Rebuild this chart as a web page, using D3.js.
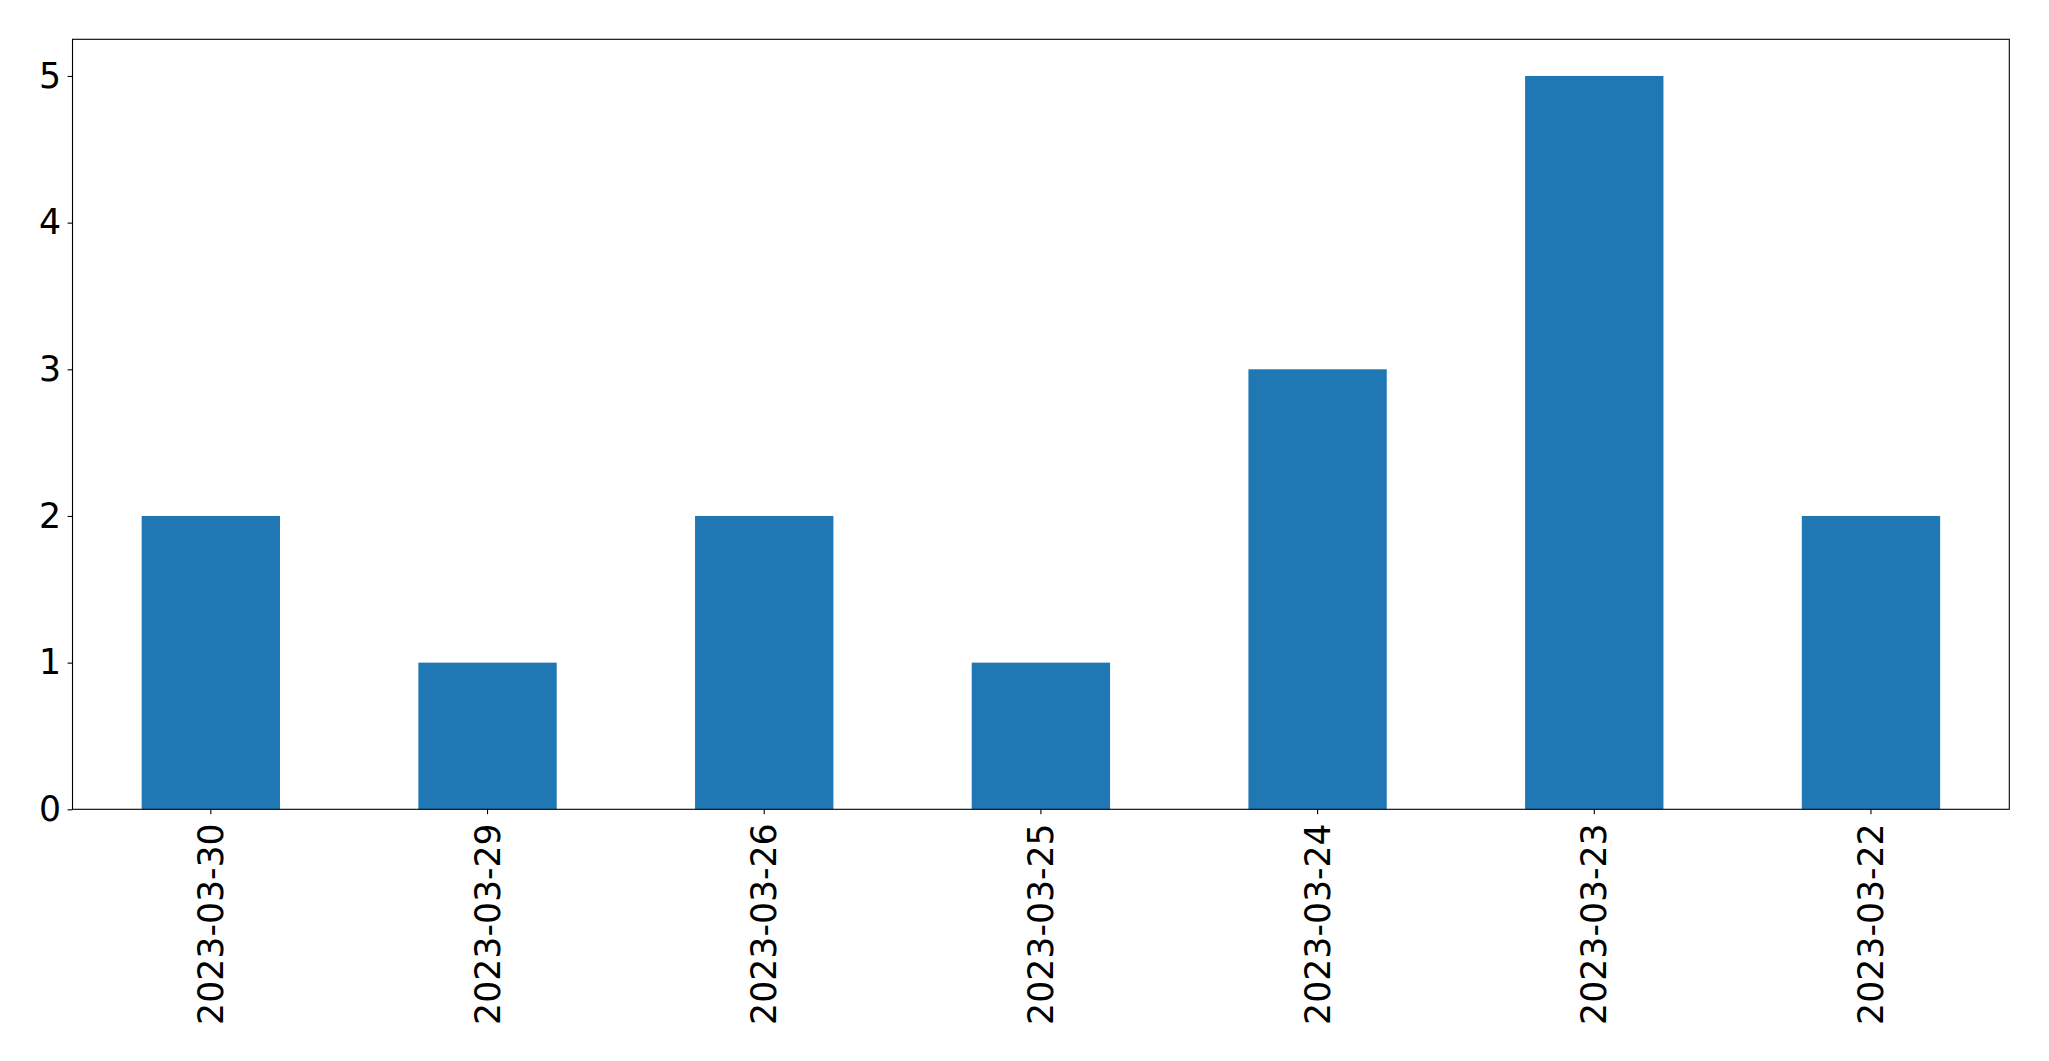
<!DOCTYPE html>
<html><head><meta charset="utf-8">
<script src="https://cdn.jsdelivr.net/npm/d3@7"></script>
<style>body{margin:0;background:#fff}</style>
</head><body>
<svg id="c" width="2049" height="1061"></svg>
<script>
const categories = ["2023-03-30","2023-03-29","2023-03-26","2023-03-25","2023-03-24","2023-03-23","2023-03-22"];
const values = [2,1,2,1,3,5,2];
const yTicks = [0,1,2,3,4,5];

const W=2049,H=1061;
const m={left:72.5,right:2049-2009.3,top:39.3,bottom:1061-809.3};
const svg=d3.select("#c");
const g=svg.append("g");
const x=d3.scaleBand().domain(categories).range([m.left,W-m.right]).paddingInner(0.5).paddingOuter(0.25);
const y=d3.scaleLinear().domain([0,5.25]).range([H-m.bottom,m.top]);
const font="DejaVu Sans, sans-serif", fs=34.7;

g.selectAll("rect.bar").data(values).enter().append("rect")
 .attr("x",(d,i)=>x(categories[i])).attr("width",x.bandwidth())
 .attr("y",d=>y(d)).attr("height",d=>y(0)-y(d)).attr("fill","#1f77b4");

const xa=d3.axisBottom(x).tickSize(4.9).tickPadding(4.9);
const xg=g.append("g").attr("transform",`translate(0,${H-m.bottom})`).call(xa);
xg.select(".domain").remove();
xg.selectAll("line").attr("stroke","#000").attr("stroke-width",1.1);
xg.selectAll("text").attr("font-family",font).attr("font-size",fs).attr("fill","#000")
 .attr("transform","rotate(-90)").attr("text-anchor","end").attr("dy","0.35em")
 .attr("x",-14).attr("y",0);

const ya=d3.axisLeft(y).tickValues(yTicks).tickFormat(d3.format("d")).tickSize(4.9).tickPadding(6.5);
const yg=g.append("g").attr("transform",`translate(${m.left},0)`).call(ya);
yg.select(".domain").remove();
yg.selectAll("line").attr("stroke","#000").attr("stroke-width",1.1);
yg.selectAll("text").attr("font-family",font).attr("font-size",fs).attr("fill","#000");

g.append("rect").attr("x",m.left).attr("y",m.top).attr("width",W-m.right-m.left).attr("height",H-m.bottom-m.top)
 .attr("fill","none").attr("stroke","#000").attr("stroke-width",1.1);
</script>
</body></html>
